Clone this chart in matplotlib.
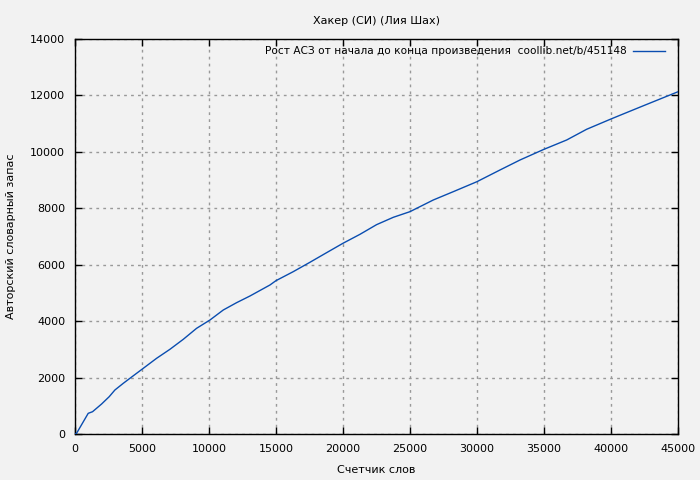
import matplotlib
matplotlib.use('Agg')
import matplotlib.pyplot as plt

# word counter vs. author vocabulary
words = [0, 124, 993, 1318, 1990, 2560, 2985, 3607, 4104, 5100, 6095, 7090,
         8085, 9080, 10075, 11070, 12065, 13060, 14552, 15000, 16292, 17537,
         18781, 20000, 21269, 22510, 23756, 25000, 26741, 28234, 30000,
         31716, 33209, 35000, 36692, 38184, 40000, 40672, 42500, 45000]
vocab = [0, 25, 733, 791, 1063, 1323, 1560, 1796, 1974, 2328, 2683, 3002,
         3356, 3746, 4040, 4395, 4655, 4891, 5281, 5434, 5754, 6086,
         6427, 6759, 7077, 7420, 7680, 7880, 8294, 8589, 8943,
         9357, 9711, 10090, 10420, 10800, 11165, 11296, 11650, 12130]

xticks = list(range(0, 45001, 5000))
yticks = list(range(0, 14001, 2000))

plt.rcParams['font.family'] = ['DejaVu Sans']
plt.rcParams['font.size'] = 8

fig = plt.figure(figsize=(7, 4.8), dpi=100, facecolor='#f2f2f2')
ax = fig.add_axes([0.107, 0.0958, 0.8616, 0.823])
ax.set_facecolor('#f2f2f2')

ax.plot(words, vocab, color='#0a4db0', lw=1, zorder=3,
        label='Рост АСЗ от начала до конца произведения  coollib.net/b/451148')

ax.set_xlim(0, 45000)
ax.set_ylim(0, 14000)
ax.set_xticks(xticks)
ax.set_yticks(yticks)
ax.tick_params(direction='in', top=True, right=True, length=5, width=1, pad=7)
ax.grid(True, color='#999999', linestyle=(0, (2, 3)), lw=1)
for s in ax.spines.values():
    s.set_linewidth(1.0)

ax.set_title('Хакер (СИ) (Лия Шах)', fontsize=8, pad=11)
ax.set_xlabel('Счетчик слов', fontsize=8, labelpad=8)
ax.set_ylabel('Авторский словарный запас', fontsize=8, labelpad=10)
ax.legend(loc='upper right', bbox_to_anchor=(0.9856, 0.992), frameon=False,
          markerfirst=False, handlelength=3.0, handletextpad=0.6,
          fontsize=7.6, borderaxespad=0)

fig.savefig('out.png', dpi=100, facecolor='#f2f2f2')
